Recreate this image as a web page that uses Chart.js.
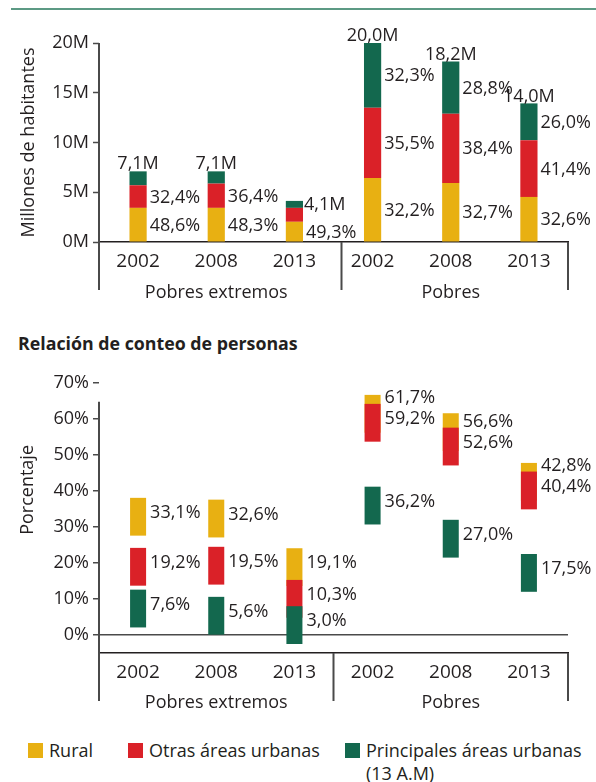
<!DOCTYPE html>
<html>
<head>
<meta charset="utf-8">
<script src="https://cdn.jsdelivr.net/npm/chart.js@4.4.1/dist/chart.umd.min.js"></script>
<style>
  body { margin: 0; width: 596px; height: 782px; position: relative; background: #fff; overflow: hidden;
         font-family: "Open Sans", sans-serif; color: #231f20; }
  #linea { position: absolute; left: 11px; right: 0; top: 8px; height: 2px; background: #5c9a84; }
  #c1 { position: absolute; left: 0; top: 0; width: 596px; height: 310px; }
  #titulo2 { position: absolute; left: 18px; top: 331px; font-weight: bold; font-size: 17.8px; }
  #c2 { position: absolute; left: 0; top: 360px; width: 596px; height: 355px; }
  .ley { position: absolute; font-size: 18px; line-height: 23px; top: 739px; }
  .ley i { position: absolute; left: -21px; top: 4px; width: 15px; height: 15px; }
</style>
</head>
<body>
<div id="linea"></div>
<div id="c1"><canvas id="montos"></canvas></div>
<div id="titulo2">Relación de conteo de personas</div>
<div id="c2"><canvas id="conteo"></canvas></div>
<div id="leyenda"></div>

<script>
// categorías
var anios = ['2002', '2008', '2013', '2002', '2008', '2013'];
var grupos = ['Pobres extremos', 'Pobres'];
var series = ['Rural', 'Otras áreas urbanas', 'Principales áreas urbanas<br>(13 A.M)'];
var colores = ['#e8b012', '#da2128', '#13684e'];

// gráfico 1: millones de habitantes
var ruralM = [3.43, 3.43, 2.03, 6.44, 5.93, 4.53];
var otrasM = [2.27, 2.44, 1.40, 7.06, 6.97, 5.70];
var principalesM = [1.40, 1.23, 0.70, 6.50, 5.25, 3.70];
var totales = ['7,1M', '7,1M', '4,1M', '20,0M', '18,2M', '14,0M'];
var ruralTxt = ['48,6%', '48,3%', '49,3%', '32,2%', '32,7%', '32,6%'];
var otrasTxt = ['32,4%', '36,4%', null, '35,5%', '38,4%', '41,4%'];
var principalesTxt = [null, null, null, '32,3%', '28,8%', '26,0%'];
var ticksM = [0, 5, 10, 15, 20];

// gráfico 2: relación de conteo (%)
var ruralP = [33.1, 32.6, 19.1, 61.7, 56.6, 42.8];
var otrasP = [19.2, 19.5, 10.3, 59.2, 52.6, 40.4];
var principalesP = [7.6, 5.6, 3.0, 36.2, 27.0, 17.5];
var ticksP = [0, 10, 20, 30, 40, 50, 60, 70];

var tinta = '#231f20';
var fuente = '"Open Sans", sans-serif';

// ejes de dos niveles: separadores y nombre del grupo
var ejeGrupos = {
    id: 'ejeGrupos',
    afterDraw: function(chart, args, opts) {
        var ctx = chart.ctx, a = chart.chartArea, x = chart.scales.x, y = chart.scales.y;
        ctx.save();
        ctx.strokeStyle = '#4a4a4a';
        ctx.lineWidth = 2;
        ctx.beginPath();
        ctx.moveTo(a.left, y.getPixelForValue(opts.lineaDesde));
        ctx.lineTo(a.left, a.bottom + 48);
        var medio = (x.getPixelForValue(2) + x.getPixelForValue(3)) / 2 + opts.desvio;
        ctx.moveTo(medio, a.bottom);
        ctx.lineTo(medio, a.bottom + 48);
        ctx.moveTo(a.right, a.bottom);
        ctx.lineTo(a.right, a.bottom + 48);
        ctx.stroke();
        ctx.fillStyle = tinta;
        ctx.font = '18px ' + fuente;
        ctx.textAlign = 'center';
        ctx.textBaseline = 'middle';
        ctx.fillText(grupos[0], x.getPixelForValue(1), a.bottom + opts.grupoY);
        ctx.fillText(grupos[1], x.getPixelForValue(4), a.bottom + opts.grupoY);
        if (opts.tituloY) {
            ctx.translate(28, y.getPixelForValue(opts.tituloEn));
            ctx.rotate(-Math.PI / 2);
            ctx.fillText(opts.tituloY, 0, 0);
        }
        ctx.restore();
    }
};

// etiquetas del gráfico de barras apiladas
var etiquetasApiladas = {
    id: 'etiquetasApiladas',
    afterDatasetsDraw: function(chart) {
        var ctx = chart.ctx;
        var textos = [ruralTxt, otrasTxt, principalesTxt];
        ctx.save();
        ctx.fillStyle = tinta;
        ctx.font = '18px ' + fuente;
        ctx.textBaseline = 'middle';
        ctx.textAlign = 'left';
        textos.forEach(function(t, d) {
            chart.getDatasetMeta(d).data.forEach(function(bar, i) {
                if (!t[i]) return;
                ctx.fillText(t[i], bar.x + bar.width / 2 + 3, (bar.y + bar.base) / 2 + 1);
            });
        });
        var base = chart.getDatasetMeta(0).data;
        chart.getDatasetMeta(2).data.forEach(function(bar, i) {
            var alto = base[i].base - bar.y;
            if (alto < 45) {
                ctx.textAlign = 'left';
                ctx.fillText(totales[i], bar.x + bar.width / 2 + 1, bar.y + 4);
            } else {
                ctx.textAlign = 'center';
                ctx.textBaseline = 'bottom';
                ctx.fillText(totales[i], bar.x, bar.y + 2);
                ctx.textBaseline = 'middle';
            }
        });
        ctx.restore();
    }
};

// etiquetas del gráfico de porcentajes
var etiquetasConteo = {
    id: 'etiquetasConteo',
    afterDatasetsDraw: function(chart) {
        var ctx = chart.ctx, y = chart.scales.y;
        ctx.save();
        ctx.fillStyle = tinta;
        ctx.font = '18px ' + fuente;
        ctx.textBaseline = 'middle';
        ctx.textAlign = 'left';
        var barras = chart.getDatasetMeta(0).data;
        barras.forEach(function(bar, i) {
            var px = bar.x + bar.width / 2 + 4;
            var yOtras = y.getPixelForValue(otrasP[i]) - 3;
            var yRural = y.getPixelForValue(ruralP[i]) - 3;
            if (ruralP[i] - otrasP[i] < 6) yRural = yOtras - 21;
            ctx.fillText(ruralP[i].toFixed(1).replace('.', ',') + '%', px, yRural);
            ctx.fillText(otrasP[i].toFixed(1).replace('.', ',') + '%', px, yOtras);
            ctx.fillText(principalesP[i].toFixed(1).replace('.', ',') + '%', px, y.getPixelForValue(principalesP[i]) - 3);
        });
        ctx.restore();
    }
};

Chart.defaults.font.family = fuente;
Chart.defaults.color = tinta;

var ejeX = {
    grid: { display: false, drawTicks: false },
    border: { display: true, color: tinta, width: 1.5 },
    ticks: { font: { size: 19 }, padding: 8, color: tinta }
};

// gráfico 1
new Chart(document.getElementById('montos'), {
    type: 'bar',
    data: {
        labels: anios,
        datasets: [
            { label: 'Rural', data: ruralM, backgroundColor: colores[0] },
            { label: 'Otras áreas urbanas', data: otrasM, backgroundColor: colores[1] },
            { label: 'Principales áreas urbanas (13 A.M)', data: principalesM, backgroundColor: colores[2] }
        ]
    },
    options: {
        responsive: true,
        maintainAspectRatio: false,
        animation: false,
        barPercentage: 0.22,
        categoryPercentage: 1,
        layout: { padding: { top: 43, right: 28, left: 0, bottom: 0 } },
        plugins: {
            legend: { display: false },
            tooltip: { enabled: false },
            ejeGrupos: { lineaDesde: 20, grupoY: 51, desvio: 8 }
        },
        scales: {
            x: Object.assign({ stacked: true, afterFit: function(s) { s.height = 68; } }, ejeX),
            y: {
                stacked: true,
                min: 0,
                max: 20,
                afterFit: function(s) { s.width = 99; },
                afterBuildTicks: function(s) { s.ticks = ticksM.map(function(v) { return { value: v }; }); },
                grid: { drawOnChartArea: false, tickLength: 6, tickColor: '#4a4a4a', tickWidth: 1.5 },
                border: { display: false },
                ticks: { font: { size: 18 }, padding: 4, color: tinta, callback: function(v) { return v + 'M'; } },
                title: { display: true, text: 'Millones de habitantes', font: { size: 18 }, color: tinta, padding: { top: 18, bottom: 0 } }
            }
        }
    },
    plugins: [ejeGrupos, etiquetasApiladas]
});

// gráfico 2: cajas alrededor de cada valor
var debajo = 5.5, encima = 5.0;
function caja(v) { return [v - debajo, v + encima]; }

new Chart(document.getElementById('conteo'), {
    type: 'bar',
    data: {
        labels: anios,
        datasets: [
            { label: 'Rural', data: ruralP.map(caja), backgroundColor: colores[0], grouped: false, order: 3 },
            { label: 'Otras áreas urbanas', data: otrasP.map(caja), backgroundColor: colores[1], grouped: false, order: 2 },
            { label: 'Principales áreas urbanas (13 A.M)', data: principalesP.map(caja), backgroundColor: colores[2], grouped: false, order: 1 }
        ]
    },
    options: {
        responsive: true,
        maintainAspectRatio: false,
        animation: false,
        barPercentage: 0.205,
        categoryPercentage: 1,
        layout: { padding: { top: 23, right: 28, left: 0, bottom: 0 } },
        plugins: {
            legend: { display: false },
            tooltip: { enabled: false },
            ejeGrupos: { lineaDesde: 64.8, grupoY: 50, desvio: 0, tituloY: 'Porcentaje', tituloEn: 40.3 }
        },
        scales: {
            x: Object.assign({ afterFit: function(s) { s.height = 62; } }, ejeX),
            y: {
                min: -5,
                max: 70,
                afterFit: function(s) { s.width = 99; },
                afterBuildTicks: function(s) { s.ticks = ticksP.map(function(v) { return { value: v }; }); },
                grid: {
                    tickLength: 6, tickColor: '#4a4a4a', tickWidth: 1.5, lineWidth: 1.5,
                    color: function(c) { return c.tick && c.tick.value === 0 ? '#4a4a4a' : 'rgba(0,0,0,0)'; }
                },
                border: { display: false },
                ticks: { font: { size: 18 }, padding: 4, color: tinta, callback: function(v) { return v + '%'; } }
            }
        }
    },
    plugins: [ejeGrupos, etiquetasConteo]
});

// leyenda
var posLeyenda = [49, 149, 366];
var ley = document.getElementById('leyenda');
series.forEach(function(s, k) {
    var d = document.createElement('div');
    d.className = 'ley';
    d.style.left = posLeyenda[k] + 'px';
    d.innerHTML = '<i style="background:' + colores[k] + '"></i>' + s;
    ley.appendChild(d);
});
</script>
</body>
</html>
